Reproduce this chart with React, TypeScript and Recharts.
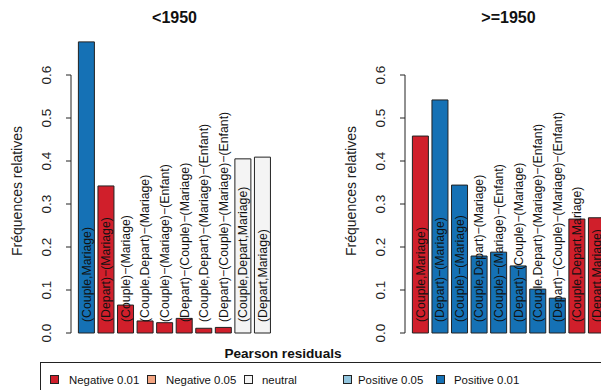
import React from 'react';
import { BarChart, Bar, XAxis, YAxis, Cell, LabelList, ReferenceLine } from 'recharts';

const categories = [
    '(Couple,Mariage)',
    '(Depart)−(Mariage)',
    '(Couple)−(Mariage)',
    '(Couple,Depart)−(Mariage)',
    '(Couple)−(Mariage)−(Enfant)',
    '(Depart)−(Couple)−(Mariage)',
    '(Couple,Depart)−(Mariage)−(Enfant)',
    '(Depart)−(Couple)−(Mariage)−(Enfant)',
    '(Couple,Depart,Mariage)',
    '(Depart,Mariage)',
];

const freqBefore1950 = [0.677, 0.342, 0.065, 0.028, 0.024, 0.034, 0.011, 0.013, 0.405, 0.409];
const freqAfter1950 = [0.458, 0.542, 0.344, 0.179, 0.188, 0.156, 0.102, 0.081, 0.265, 0.268];

const residBefore1950 = ['pos01', 'neg01', 'neg01', 'neg01', 'neg01', 'neg01', 'neg01', 'neg01', 'neutral', 'neutral'];
const residAfter1950 = ['neg01', 'pos01', 'pos01', 'pos01', 'pos01', 'pos01', 'pos01', 'pos01', 'neg01', 'neg01'];

const yTicks = [0, 0.1, 0.2, 0.3, 0.4, 0.5, 0.6];

const legendKeys = ['neg01', 'neg05', 'neutral', 'pos05', 'pos01'];
const legendLabels = ['Negative 0.01', 'Negative 0.05', 'neutral', 'Positive 0.05', 'Positive 0.01'];

const colors: Record<string, string> = {
    neg01: '#D01F2B',
    neg05: '#F4A582',
    neutral: '#F4F4F4',
    pos05: '#92C5DE',
    pos01: '#1571B5',
};

const FONT = '"Liberation Sans", Arial, Helvetica, sans-serif';
const INK = '#222';

const YTick = (props: any) => {
    const { x, y, payload } = props;
    const bx = x - 13;
    return (
        <text x={bx} y={y} transform={`rotate(-90, ${bx}, ${y})`} textAnchor="middle"
            fontSize={13.5} fill={INK} fontFamily={FONT}>
            {payload.value.toFixed(1)}
        </text>
    );
};

const BarLabel = (props: any) => {
    const { x, y, width, height, value } = props;
    const cx = x + width / 2 + 4.3;
    const cy = y + height - 11;
    return (
        <text x={cx} y={cy} transform={`rotate(-90, ${cx}, ${cy})`} textAnchor="start"
            fontSize={12.3} fill="#111" fontFamily={FONT}>
            {value}
        </text>
    );
};

const YLabel = (props: any) => {
    const vb = props.viewBox;
    const x = vb.x + 21.5;
    const y = vb.y + vb.height / 2 + 8.5;
    return (
        <text x={x} y={y} transform={`rotate(-90, ${x}, ${y})`} textAnchor="middle"
            fontSize={14} fill={INK} fontFamily={FONT}>
            Fréquences relatives
        </text>
    );
};

function Panel({ values, resid, left }: { values: number[]; resid: string[]; left: number }) {
    const data = categories.map((label, i) => ({ label, value: values[i], resid: resid[i] }));
    return (
        <div style={{ position: 'absolute', left, top: 0 }}>
            <BarChart width={334} height={390} data={data}
                margin={{ top: 32, right: 62, bottom: 57, left: 0 }}>
                <XAxis dataKey="label" type="category" hide padding={{ left: 5.4, right: 0 }} />
                <XAxis xAxisId="n" type="number" domain={[0, 1]} hide />
                <YAxis width={71} domain={[0, 0.7]} ticks={yTicks} axisLine={false}
                    tickLine={{ stroke: INK }} tickSize={5} tick={<YTick />} interval={0}
                    label={<YLabel />} />
                <ReferenceLine xAxisId="n" segment={[{ x: 0, y: 0 }, { x: 0, y: 0.6 }]} stroke={INK} />
                <Bar dataKey="value" barSize={16} stroke={INK} strokeWidth={1} isAnimationActive={false}>
                    {data.map((d, i) => (
                        <Cell key={i} fill={colors[d.resid]} />
                    ))}
                    <LabelList dataKey="label" content={<BarLabel />} />
                </Bar>
            </BarChart>
        </div>
    );
}

export default function App() {
    const legendX = [50, 147, 244, 343, 436];
    const legendTextX = [69, 166, 262, 358, 454];
    return (
        <div style={{ position: 'absolute', left: 0, top: 0, width: 601, height: 390, overflow: 'hidden', background: '#fff' }}>
            <Panel values={freqBefore1950} resid={residBefore1950} left={0} />
            <Panel values={freqAfter1950} resid={residAfter1950} left={334} />
            <svg width={601} height={390} style={{ position: 'absolute', left: 0, top: 0, pointerEvents: 'none' }}>
                <text x={174.5} y={23} textAnchor="middle" fontWeight="bold" fontSize={16} fill="#111" fontFamily={FONT}>{'<1950'}</text>
                <text x={508.5} y={23} textAnchor="middle" fontWeight="bold" fontSize={16} fill="#111" fontFamily={FONT}>{'>=1950'}</text>
                <text x={283} y={358} textAnchor="middle" fontWeight="bold" fontSize={13.6} fill="#111" fontFamily={FONT}>Pearson residuals</text>
                <rect x={40.5} y={362.5} width={600} height={60} fill="none" stroke={INK} />
                {legendKeys.map((k, i) => (
                    <g key={k}>
                        <rect x={legendX[i] + 0.5} y={375.5} width={8} height={8} fill={colors[k]} stroke={INK} />
                        <text x={legendTextX[i]} y={384} fontSize={11.4} fill="#111" fontFamily={FONT}>{legendLabels[i]}</text>
                    </g>
                ))}
            </svg>
        </div>
    );
}
